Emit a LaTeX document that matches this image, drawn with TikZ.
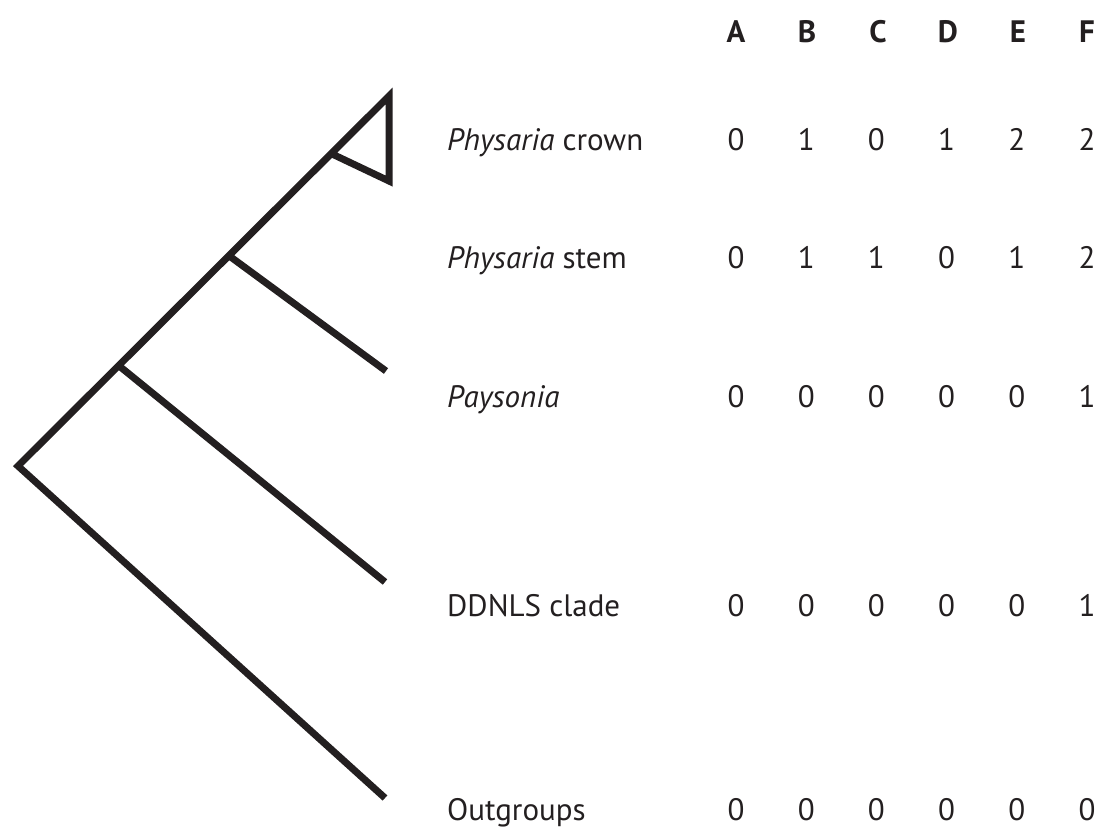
\documentclass[tikz,border=0pt]{standalone}
\usepackage{fontspec}
\setmainfont{PT Sans}
\definecolor{ink}{RGB}{35,31,32}
\begin{document}
\begin{tikzpicture}[x=1pt,y=-1pt,
  tree/.style={draw=ink,line width=7pt,line join=miter,line cap=butt},
  lab/.style={anchor=base west,inner sep=0pt,text=ink,font=\fontsize{31}{36}\selectfont},
  val/.style={anchor=base,inner sep=0pt,text=ink,font=\fontsize{31}{36}\selectfont},
  hdr/.style={anchor=base,inner sep=0pt,text=ink,font=\fontsize{31}{36}\selectfont\bfseries}]
\useasboundingbox (0,0) rectangle (1102,832);
% tree points
\coordinate (root) at (18,466);
\coordinate (top) at (389,96);
\coordinate (bot) at (389,181);
\coordinate (cr) at (330,153);
\coordinate (n3) at (228,255);
\coordinate (n2) at (118,365);
\coordinate (eP) at (386,371);
\coordinate (eD) at (385,582);
\coordinate (eO) at (385,798);
\draw[tree] (eO) -- (root) -- (top) -- (bot) -- (cr);
\draw[tree] (n3) -- (eP);
\draw[tree] (n2) -- (eD);
% header
\foreach \l/\x in {A/736,B/807,C/878,D/948,E/1018,F/1087}
  \node[hdr] (h\l) at (\x,43) {\l};
% labels
\node[lab] (Lcrown) at (447,150) {\textit{Physaria} crown};
\node[lab] (Lstem) at (447,268) {\textit{Physaria} stem};
\node[lab] (Lpays) at (447,407) {\textit{Paysonia}};
\node[lab] (Lddnls) at (447,616) {DDNLS clade};
\node[lab] (Lout) at (447,820) {Outgroups};
% values
\foreach \r/\y/\vals in {crown/150/{0,1,0,1,2,2},stem/268/{0,1,1,0,1,2},pays/407/{0,0,0,0,0,1},ddnls/616/{0,0,0,0,0,1},out/820/{0,0,0,0,0,0}}{
  \foreach \v [count=\i] in \vals {
    \pgfmathsetmacro{\xx}{736+70.2*(\i-1)}
    \node[val] (v\r\i) at (\xx,\y) {\v};
  }
}
\end{tikzpicture}
\end{document}
